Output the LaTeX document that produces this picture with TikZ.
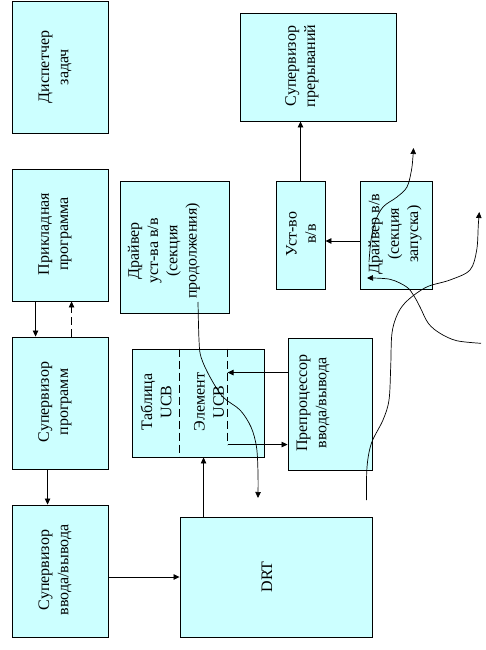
\documentclass[tikz,border=0pt]{standalone}
\usepackage{fontspec}
\newfontfamily\mono{Liberation Serif}
\newfontfamily\monolat{Liberation Serif}
\usetikzlibrary{arrows.meta,calc}
\definecolor{boxfill}{HTML}{CCFFFF}
\begin{document}
\begin{tikzpicture}[x=1pt,y=-1pt,
  box/.style={draw, fill=boxfill, line width=0.9pt, inner sep=0pt},
  lbl/.style={rotate=90, align=center, inner sep=0pt, font={\mono\fontsize{16}{19.3}\selectfont}},
  arr/.style={-{Triangle[length=6pt,width=5.5pt]}, line width=0.8pt},
  dsh/.style={dash pattern=on 8pt off 4pt, line width=0.8pt},
  crv/.style={line width=0.7pt}]
\useasboundingbox (0,0) rectangle (485,650);
% boxes
\node[box, minimum width=96pt, minimum height=132pt] (disp) at (60,67) {};
\node[box, minimum width=156pt, minimum height=108pt] (supint) at (318,67) {};
\node[box, minimum width=96pt, minimum height=132pt] (appl) at (60,235) {};
\node[box, minimum width=109pt, minimum height=132pt] (drvc) at (174.5,247) {};
\node[box, minimum width=49pt, minimum height=108pt] (dev) at (300.5,235) {};
\node[box, minimum width=72pt, minimum height=108pt] (drvs) at (396,235) {};
\node[box, minimum width=96pt, minimum height=132pt] (supprog) at (60,403) {};
\node[box, minimum width=132pt, minimum height=108pt] (ucb) at (198,403) {};
\node[box, minimum width=84pt, minimum height=132pt] (preproc) at (330,404) {};
\node[box, minimum width=96pt, minimum height=132pt] (supio) at (60,571) {};
\node[box, minimum width=192pt, minimum height=120pt] (drt) at (276,577) {};
% labels
\node[lbl] (tdisp) at (55,67) {Диспетчер\\задач};
\node[lbl] (tsupint) at (302,66) {Супервизор\\прерываний};
\node[lbl] (tappl) at (55,234) {Прикладная\\программа};
\node[lbl] (tdrvc) at (164,251) {Драйвер\\уст-ва в/в\\(секция\\продолжения)};
\node[lbl] (tdev) at (301,234) {Уст-во\\в/в};
\node[lbl] (tdrvs) at (395,234) {Драйвер в/в\\(секция\\запуска)};
\node[lbl] (tsupprog) at (55,402) {Супервизор\\программ};
\node[lbl] (tucb1) at (156,402) {Таблица\\{\monolat UCB}};
\node[lbl] (tucb2) at (209,402) {Элемент\\{\monolat UCB}};
\node[lbl] (tpre) at (313,403) {Препроцессор\\ввода/вывода};
\node[lbl] (tsupio) at (55,570) {Супервизор\\ввода/вывода};
\node[lbl] (tdrt) at (267,577) {\monolat DRT};
% UCB inner dashed dividers
\coordinate (u1t) at ($(ucb.north west)+(48,0)$);
\coordinate (u1b) at ($(ucb.south west)+(48,0)$);
\coordinate (u2t) at ($(ucb.north west)+(96,0)$);
\coordinate (u2b) at ($(ucb.north west)+(96,96)$);
\coordinate (u2m) at ($(ucb.north west)+(96,24)$);
\draw[dsh] (u1t) -- (u1b);
\draw[dsh] (u2t) -- (u2b);
\draw[arr] (u2b) -- (u2b -| preproc.west);
\draw[arr] (u2m -| preproc.west) -- (u2m);
% straight connectors
\draw[arr] ($(appl.south west)+(24,0)$) -- ($(supprog.north west)+(24,0)$);
\draw[arr, dash pattern=on 8pt off 4pt] ($(supprog.north west)+(60,0)$) -- ($(appl.south west)+(60,0)$);
\draw[arr] ($(supprog.south west)+(36,0)$) -- ($(supio.north west)+(36,0)$);
\draw[arr] (drt.west -| supio.east) -- (drt.west);
\draw[arr] ($(drt.north west)+(24,0)$) -- ($(ucb.south west)+(72,0)$);
\draw[arr] (dev.north) -- (dev.north |- supint.south);
\coordinate (d7) at ($(drvs.west)+(0,6)$);
\draw[arr] (d7) -- (d7 -| dev.east);
% curves
\coordinate (cA0) at (198,302);
\coordinate (cA1) at (258,498);
\draw[crv, arr, line width=0.7pt] plot[smooth, tension=0.55] coordinates {(cA0) (199,340) (201,357) (210,377) (223,397) (240,410) (251,427) (256.5,447) (258,473) (cA1)};
\coordinate (cB0) at (366.5,500);
\coordinate (cB1) at (479.3,212);
\draw[crv, arr, line width=0.7pt] plot[smooth, tension=0.55] coordinates {(cB0) (367,467) (371.5,443) (383,420) (389,400) (390.7,367) (392,333) (398,313) (408,300) (426.7,287) (450,280) (470,270) (476.7,250) (478.3,225) (cB1)};
\coordinate (cC0) at (481,343.3);
\coordinate (cC1) at (367,278);
\draw[crv, arr, line width=0.7pt] plot[smooth, tension=0.55] coordinates {(cC0) (456.7,340.7) (440,333.3) (428.3,323.3) (420,307) (414,296) (406.7,287) (390,279.3) (cC1)};
\coordinate (cD0) at (369,262);
\coordinate (cD1) at (413.5,148);
\draw[crv, arr, line width=0.7pt] plot[smooth, tension=0.55] coordinates {(cD0) (371,240) (375,222) (383,207) (397,197) (407,187) (411.5,170) (413,156) (cD1)};
\end{tikzpicture}
\end{document}
